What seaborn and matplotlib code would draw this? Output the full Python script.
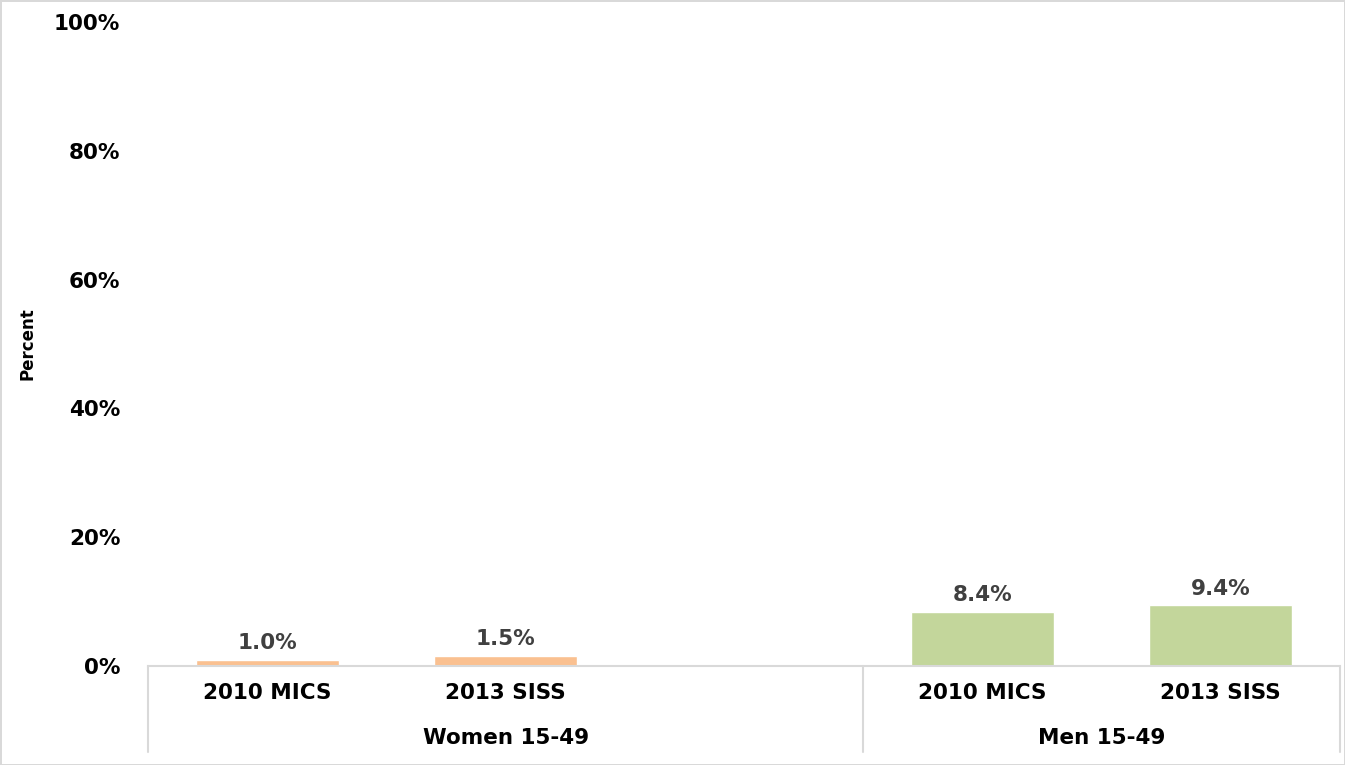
import matplotlib
matplotlib.use("Agg")
import matplotlib.pyplot as plt
import matplotlib.transforms as mtransforms
import seaborn as sns
import pandas as pd

# Data
surveys = ["2010 MICS", "2013 SISS"]
groups = ["Women 15-49", "Men 15-49"]
women_values = [1.0, 1.5]
men_values = [8.4, 9.4]

women_color = "#FAC090"
men_color = "#C3D69B"

sns.set_style("white")
plt.rcParams['font.family'] = ['DejaVu Sans']

# one key per bar, plus an empty slot between the two groups
keys = ["W " + s for s in surveys] + ["gap"] + ["M " + s for s in surveys]
df = pd.DataFrame({
    "key": ["W " + s for s in surveys] + ["M " + s for s in surveys],
    "value": women_values + men_values,
})
palette = {k: women_color for k in keys[:2]}
palette.update({k: men_color for k in keys[3:]})
palette["gap"] = "white"

fig = plt.figure(figsize=(13.45, 7.65), dpi=100)
fig.patch.set_edgecolor("#d9d9d9")
fig.patch.set_linewidth(2)
ax = fig.add_axes([148 / 1345, 1 - 666 / 765, (1340 - 148) / 1345, (666 - 22) / 765])

sns.barplot(data=df, x="key", y="value", hue="key", order=keys, palette=palette,
            width=0.6, legend=False, ax=ax, saturation=1)

fs = 15.5
ax.set_ylim(0, 100)
ax.set_xlim(-0.5, 4.5)
ax.set_yticks(range(0, 101, 20))
ax.set_yticklabels([f"{v}%" for v in range(0, 101, 20)], fontsize=fs,
                   fontweight="bold", color="black")
ax.tick_params(axis="y", length=0, pad=20)
ax.tick_params(axis="x", length=0)
ax.set_xticks([])
ax.set_xlabel("")
ax.set_ylabel("Percent", fontsize=12, fontweight="bold", color="black")
ax.yaxis.set_label_coords((37 - 148) / 1192, 0.5)

for side in ["top", "right", "left"]:
    ax.spines[side].set_visible(False)
ax.spines["bottom"].set_color("#d9d9d9")
ax.spines["bottom"].set_linewidth(1.5)

# value labels
for container in ax.containers:
    ax.bar_label(container, fmt="%.1f%%", padding=5, fontsize=fs,
                 fontweight="bold", color="#404040")

# two-level category axis
trans = mtransforms.blended_transform_factory(ax.transData, ax.transAxes)
positions = [0, 1, 3, 4]
labels = surveys + surveys
for pos, lab in zip(positions, labels):
    ax.text(pos, -0.042, lab, transform=trans, ha="center", va="center",
            fontsize=fs, fontweight="bold", color="black")
ax.text(1.0, -0.112, groups[0], transform=trans, ha="center", va="center",
        fontsize=fs, fontweight="bold", color="black")
ax.text(3.5, -0.112, groups[1], transform=trans, ha="center", va="center",
        fontsize=fs, fontweight="bold", color="black")
for xv in [-0.5, 2.5, 4.5]:
    ax.plot([xv, xv], [0, -0.134], transform=trans, color="#d9d9d9",
            linewidth=1.5, clip_on=False)

fig.savefig("out.png", dpi=100)
